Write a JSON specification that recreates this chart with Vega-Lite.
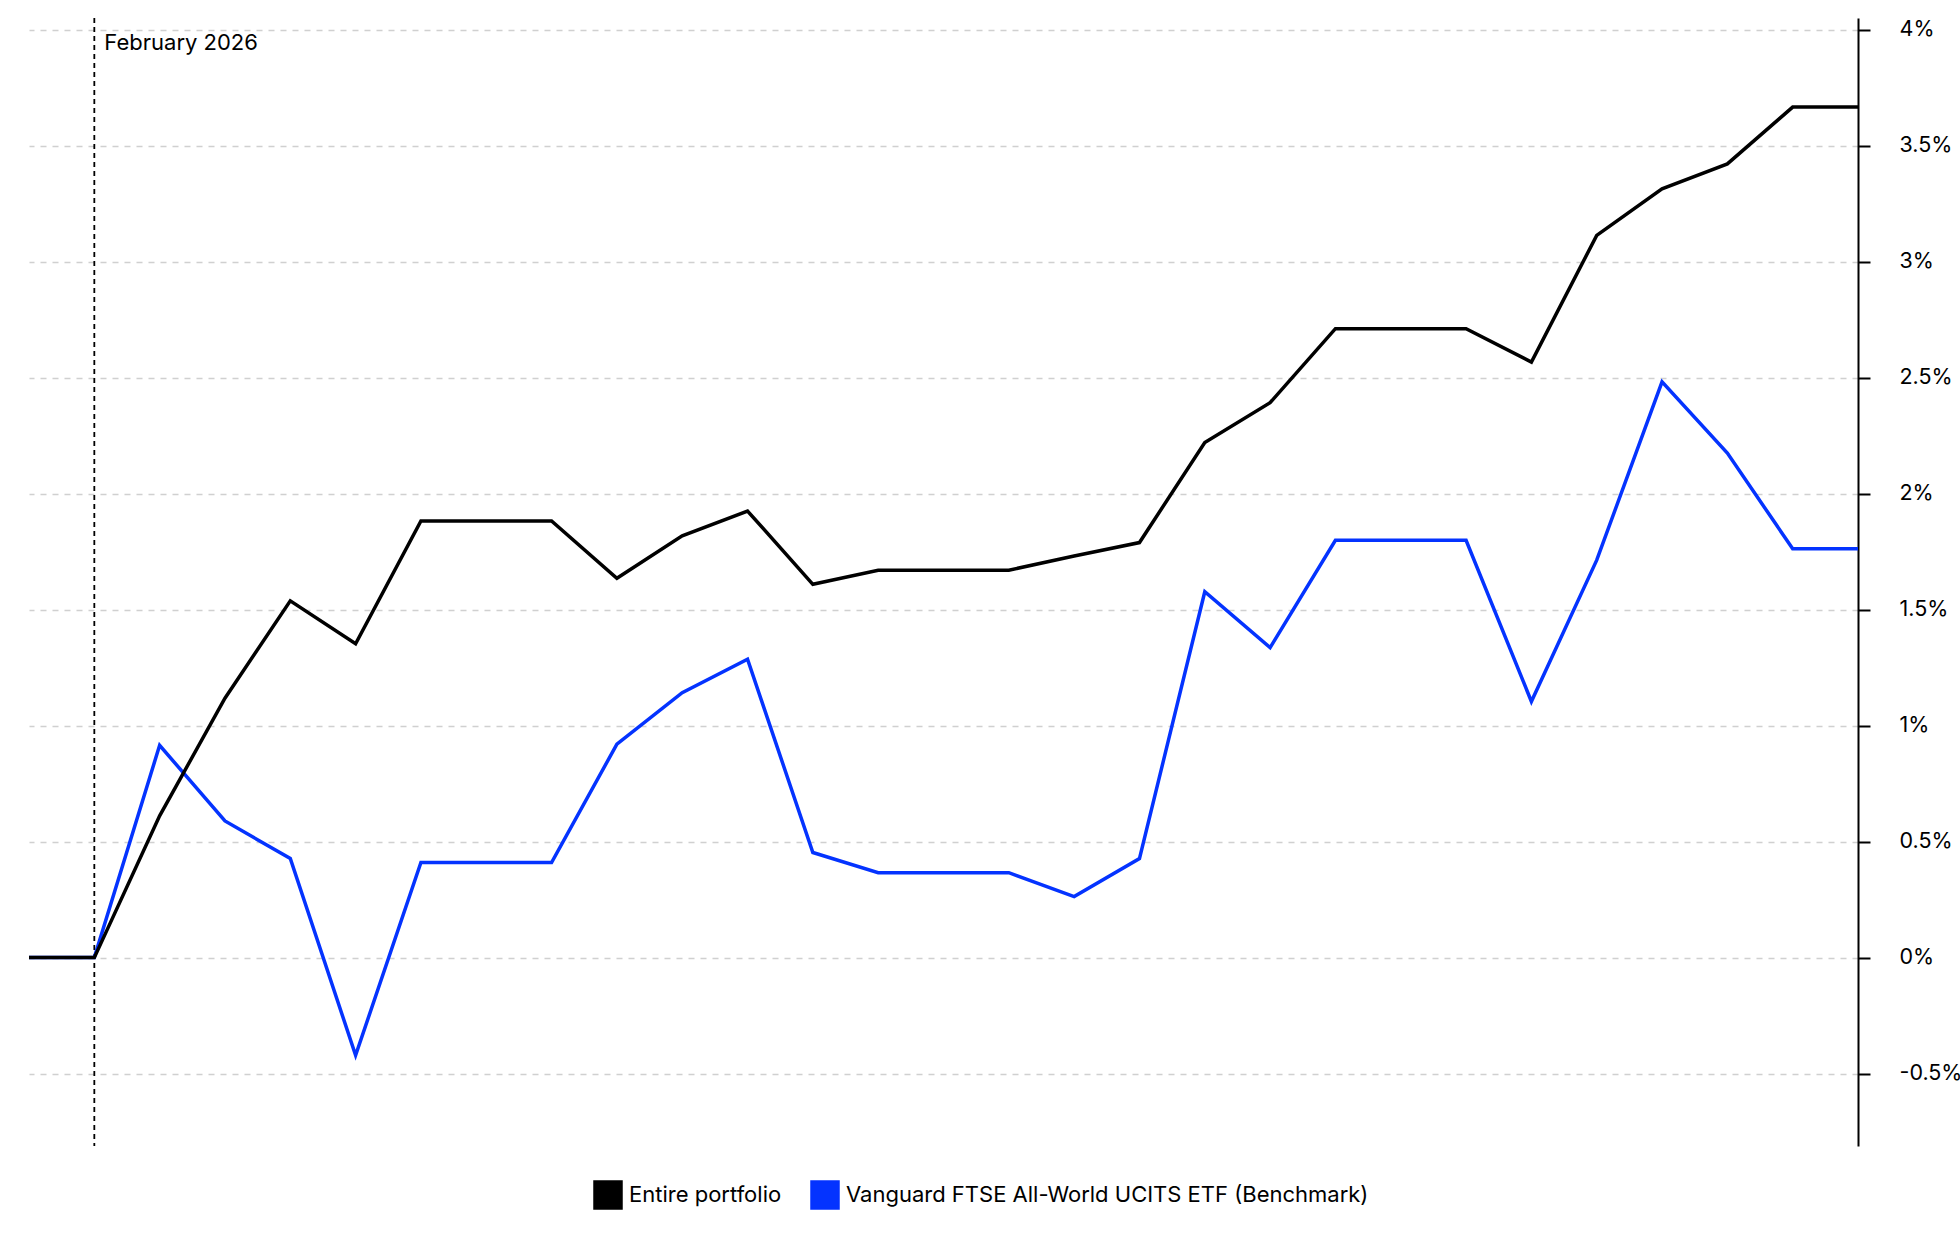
{
  "$schema": "https://vega.github.io/schema/vega-lite/v6.json",
  "width": 1829,
  "height": 1128,
  "padding": {"left": 22, "top": 17, "right": 0, "bottom": 0},
  "autosize": {"type": "pad"},
  "background": "white",
  "config": {"view": {"stroke": null}, "font": "Inter"},
  "datasets": {
    "series": [
      {"date": "2026-01-31", "series": "Entire portfolio", "value": 0},
      {"date": "2026-02-01", "series": "Entire portfolio", "value": 0},
      {"date": "2026-02-02", "series": "Entire portfolio", "value": 0.611},
      {"date": "2026-02-03", "series": "Entire portfolio", "value": 1.118},
      {"date": "2026-02-04", "series": "Entire portfolio", "value": 1.538},
      {"date": "2026-02-05", "series": "Entire portfolio", "value": 1.353},
      {"date": "2026-02-06", "series": "Entire portfolio", "value": 1.882},
      {"date": "2026-02-07", "series": "Entire portfolio", "value": 1.882},
      {"date": "2026-02-08", "series": "Entire portfolio", "value": 1.882},
      {"date": "2026-02-09", "series": "Entire portfolio", "value": 1.635},
      {"date": "2026-02-10", "series": "Entire portfolio", "value": 1.818},
      {"date": "2026-02-11", "series": "Entire portfolio", "value": 1.925},
      {"date": "2026-02-12", "series": "Entire portfolio", "value": 1.609},
      {"date": "2026-02-13", "series": "Entire portfolio", "value": 1.670},
      {"date": "2026-02-14", "series": "Entire portfolio", "value": 1.670},
      {"date": "2026-02-15", "series": "Entire portfolio", "value": 1.670},
      {"date": "2026-02-16", "series": "Entire portfolio", "value": 1.731},
      {"date": "2026-02-17", "series": "Entire portfolio", "value": 1.789},
      {"date": "2026-02-18", "series": "Entire portfolio", "value": 2.220},
      {"date": "2026-02-19", "series": "Entire portfolio", "value": 2.392},
      {"date": "2026-02-20", "series": "Entire portfolio", "value": 2.711},
      {"date": "2026-02-21", "series": "Entire portfolio", "value": 2.711},
      {"date": "2026-02-22", "series": "Entire portfolio", "value": 2.711},
      {"date": "2026-02-23", "series": "Entire portfolio", "value": 2.567},
      {"date": "2026-02-24", "series": "Entire portfolio", "value": 3.113},
      {"date": "2026-02-25", "series": "Entire portfolio", "value": 3.314},
      {"date": "2026-02-26", "series": "Entire portfolio", "value": 3.421},
      {"date": "2026-02-27", "series": "Entire portfolio", "value": 3.666},
      {"date": "2026-02-28", "series": "Entire portfolio", "value": 3.666},
      {"date": "2026-01-31", "series": "Vanguard FTSE All-World UCITS ETF (Benchmark)", "value": 0},
      {"date": "2026-02-01", "series": "Vanguard FTSE All-World UCITS ETF (Benchmark)", "value": 0},
      {"date": "2026-02-02", "series": "Vanguard FTSE All-World UCITS ETF (Benchmark)", "value": 0.915},
      {"date": "2026-02-03", "series": "Vanguard FTSE All-World UCITS ETF (Benchmark)", "value": 0.589},
      {"date": "2026-02-04", "series": "Vanguard FTSE All-World UCITS ETF (Benchmark)", "value": 0.427},
      {"date": "2026-02-05", "series": "Vanguard FTSE All-World UCITS ETF (Benchmark)", "value": -0.421},
      {"date": "2026-02-06", "series": "Vanguard FTSE All-World UCITS ETF (Benchmark)", "value": 0.410},
      {"date": "2026-02-07", "series": "Vanguard FTSE All-World UCITS ETF (Benchmark)", "value": 0.410},
      {"date": "2026-02-08", "series": "Vanguard FTSE All-World UCITS ETF (Benchmark)", "value": 0.410},
      {"date": "2026-02-09", "series": "Vanguard FTSE All-World UCITS ETF (Benchmark)", "value": 0.920},
      {"date": "2026-02-10", "series": "Vanguard FTSE All-World UCITS ETF (Benchmark)", "value": 1.142},
      {"date": "2026-02-11", "series": "Vanguard FTSE All-World UCITS ETF (Benchmark)", "value": 1.286},
      {"date": "2026-02-12", "series": "Vanguard FTSE All-World UCITS ETF (Benchmark)", "value": 0.453},
      {"date": "2026-02-13", "series": "Vanguard FTSE All-World UCITS ETF (Benchmark)", "value": 0.366},
      {"date": "2026-02-14", "series": "Vanguard FTSE All-World UCITS ETF (Benchmark)", "value": 0.366},
      {"date": "2026-02-15", "series": "Vanguard FTSE All-World UCITS ETF (Benchmark)", "value": 0.366},
      {"date": "2026-02-16", "series": "Vanguard FTSE All-World UCITS ETF (Benchmark)", "value": 0.263},
      {"date": "2026-02-17", "series": "Vanguard FTSE All-World UCITS ETF (Benchmark)", "value": 0.427},
      {"date": "2026-02-18", "series": "Vanguard FTSE All-World UCITS ETF (Benchmark)", "value": 1.577},
      {"date": "2026-02-19", "series": "Vanguard FTSE All-World UCITS ETF (Benchmark)", "value": 1.336},
      {"date": "2026-02-20", "series": "Vanguard FTSE All-World UCITS ETF (Benchmark)", "value": 1.799},
      {"date": "2026-02-21", "series": "Vanguard FTSE All-World UCITS ETF (Benchmark)", "value": 1.799},
      {"date": "2026-02-22", "series": "Vanguard FTSE All-World UCITS ETF (Benchmark)", "value": 1.799},
      {"date": "2026-02-23", "series": "Vanguard FTSE All-World UCITS ETF (Benchmark)", "value": 1.104},
      {"date": "2026-02-24", "series": "Vanguard FTSE All-World UCITS ETF (Benchmark)", "value": 1.713},
      {"date": "2026-02-25", "series": "Vanguard FTSE All-World UCITS ETF (Benchmark)", "value": 2.482},
      {"date": "2026-02-26", "series": "Vanguard FTSE All-World UCITS ETF (Benchmark)", "value": 2.175},
      {"date": "2026-02-27", "series": "Vanguard FTSE All-World UCITS ETF (Benchmark)", "value": 1.762},
      {"date": "2026-02-28", "series": "Vanguard FTSE All-World UCITS ETF (Benchmark)", "value": 1.762}
    ],
    "marker": [{"date": "2026-02-01", "label": "February 2026", "level": 4}]
  },
  "layer": [
    {
      "data": {"name": "marker"},
      "mark": {"type": "rule", "color": "black", "strokeDash": [5, 4], "strokeWidth": 1.8},
      "encoding": {
        "x": {"field": "date", "type": "temporal", "axis": null, "scale": {"nice": false}}
      }
    },
    {
      "data": {"name": "series"},
      "transform": [{"filter": "datum.series != 'Entire portfolio'"}],
      "mark": {"type": "line", "strokeWidth": 3.5, "strokeJoin": "miter"},
      "encoding": {
        "x": {"field": "date", "type": "temporal", "axis": null, "scale": {"nice": false}},
        "y": {
          "field": "value", "type": "quantitative",
          "scale": {"domain": [-0.812, 4.05], "nice": false, "zero": false},
          "axis": {
            "orient": "right", "title": null,
            "values": [-0.5, 0, 0.5, 1, 1.5, 2, 2.5, 3, 3.5, 4],
            "labelExpr": "datum.value + '%'",
            "grid": true, "gridDash": [6, 6], "gridColor": "#d0d0d0", "gridWidth": 1.5,
            "domainColor": "black", "domainWidth": 2,
            "tickColor": "black", "tickWidth": 2, "tickSize": 12,
            "labelPadding": 29, "labelAlign": "left", "labelFontSize": 21.5,
            "labelColor": "black", "labelFont": "Inter"
          }
        },
        "color": {
          "field": "series", "type": "nominal",
          "scale": {
            "domain": ["Entire portfolio", "Vanguard FTSE All-World UCITS ETF (Benchmark)"],
            "range": ["#000000", "#0433ff"]
          },
          "legend": {
            "title": null, "orient": "none", "legendX": 564, "legendY": 1162,
            "direction": "horizontal", "symbolType": "square", "symbolSize": 784,
            "labelFontSize": 22, "labelFont": "Inter", "labelColor": "black",
            "labelLimit": 0, "labelOffset": 6, "columnPadding": 26,
            "encode": {
              "symbols": {
                "update": {
                  "fill": {"scale": "color", "field": "value"},
                  "stroke": {"value": "black"},
                  "strokeWidth": {"value": 1.5},
                  "opacity": {"value": 1}
                }
              }
            }
          }
        }
      }
    },
    {
      "data": {"name": "series"},
      "transform": [{"filter": "datum.series == 'Entire portfolio'"}],
      "mark": {"type": "line", "strokeWidth": 3.5, "strokeJoin": "miter"},
      "encoding": {
        "x": {"field": "date", "type": "temporal"},
        "y": {"field": "value", "type": "quantitative"},
        "color": {"field": "series", "type": "nominal"}
      }
    },
    {
      "data": {"name": "marker"},
      "mark": {"type": "text", "align": "left", "baseline": "top", "dx": 10, "dy": 3, "fontSize": 22, "font": "Inter", "color": "black"},
      "encoding": {
        "x": {"field": "date", "type": "temporal"},
        "y": {"field": "level", "type": "quantitative"},
        "text": {"field": "label"}
      }
    }
  ]
}
